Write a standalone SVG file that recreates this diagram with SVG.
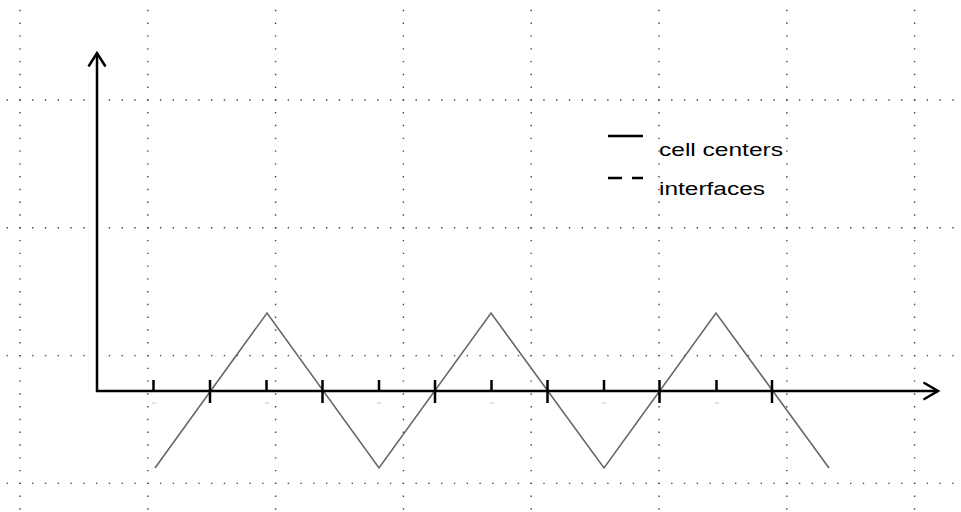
<svg xmlns="http://www.w3.org/2000/svg" width="961" height="512" viewBox="0 0 961 512">
<style>
.grid{stroke:#444;stroke-width:1.4;stroke-dasharray:0 12.78;stroke-linecap:square;fill:none}
.axis{stroke:#000;stroke-width:2.5;fill:none}
.head{stroke:#000;stroke-width:2.5;fill:none;stroke-linejoin:miter}
.tick{stroke:#000;stroke-width:2.5}
.wave{stroke:#666;stroke-width:1.6;fill:none}
.faint{stroke:#ccc;stroke-width:1}
.lbl{font-family:"Liberation Sans",Arial,sans-serif;font-size:18px;fill:#000}
</style>
<rect width="961" height="512" fill="#fff"/>
<g id="grid">
<line class="grid" x1="20" y1="-2.24" x2="20" y2="512"/>
<line class="grid" x1="147.8" y1="-2.24" x2="147.8" y2="512"/>
<line class="grid" x1="275.6" y1="-2.24" x2="275.6" y2="512"/>
<line class="grid" x1="403.4" y1="-2.24" x2="403.4" y2="512"/>
<line class="grid" x1="531.2" y1="-2.24" x2="531.2" y2="512"/>
<line class="grid" x1="659" y1="-2.24" x2="659" y2="512"/>
<line class="grid" x1="786.8" y1="-2.24" x2="786.8" y2="512"/>
<line class="grid" x1="914.6" y1="-2.24" x2="914.6" y2="512"/>
<line class="grid" x1="-5.56" y1="100" x2="961" y2="100"/>
<line class="grid" x1="-5.56" y1="227.8" x2="961" y2="227.8"/>
<line class="grid" x1="-5.56" y1="355.6" x2="961" y2="355.6"/>
<line class="grid" x1="-5.56" y1="483.4" x2="961" y2="483.4"/>
</g>
<g id="wave">
<polyline class="wave" points="155,468 267,313 379,468 491,313 604,468 716,313 829,468"/>
</g>
<g id="axes">
<line class="axis" x1="97" y1="392" x2="97" y2="53"/>
<polyline class="head" points="88.5,66.5 97,53 105.5,66.5"/>
<line class="axis" x1="96" y1="391" x2="938" y2="391"/>
<polyline class="head" points="923.5,382.5 938,391 923.5,399.5"/>
</g>
<g id="ticks">
<line class="tick" x1="153.5" y1="380" x2="153.5" y2="392"/>
<line class="tick" x1="266.5" y1="380" x2="266.5" y2="392"/>
<line class="tick" x1="379" y1="380" x2="379" y2="392"/>
<line class="tick" x1="491.5" y1="380" x2="491.5" y2="392"/>
<line class="tick" x1="604" y1="380" x2="604" y2="392"/>
<line class="tick" x1="716.5" y1="380" x2="716.5" y2="392"/>
<line class="tick" x1="210" y1="380" x2="210" y2="403"/>
<line class="tick" x1="322.5" y1="380" x2="322.5" y2="403"/>
<line class="tick" x1="435" y1="380" x2="435" y2="403"/>
<line class="tick" x1="547.5" y1="380" x2="547.5" y2="403"/>
<line class="tick" x1="659.5" y1="380" x2="659.5" y2="403"/>
<line class="tick" x1="772" y1="380" x2="772" y2="403"/>
<line class="faint" x1="152" y1="403" x2="156" y2="403"/>
<line class="faint" x1="265" y1="403" x2="269" y2="403"/>
<line class="faint" x1="377" y1="403" x2="381" y2="403"/>
<line class="faint" x1="490" y1="403" x2="494" y2="403"/>
<line class="faint" x1="602" y1="403" x2="606" y2="403"/>
<line class="faint" x1="715" y1="403" x2="719" y2="403"/>
</g>
<g id="legend">
<line x1="608" y1="136" x2="643" y2="136" stroke="#000" stroke-width="2.5"/>
<line x1="608" y1="178" x2="643" y2="178" stroke="#000" stroke-width="2.5" stroke-dasharray="14 10"/>
<text class="lbl" x="659" y="156" textLength="124" lengthAdjust="spacingAndGlyphs">cell centers</text>
<text class="lbl" x="659" y="195" textLength="106" lengthAdjust="spacingAndGlyphs">interfaces</text>
</g>
</svg>
